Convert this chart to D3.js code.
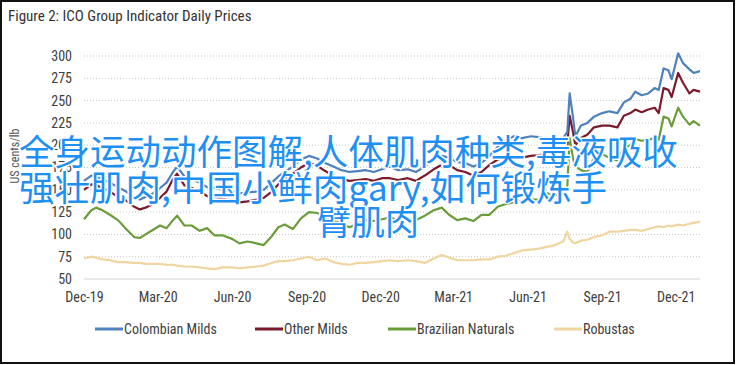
<!DOCTYPE html>
<html>
<head>
<meta charset="utf-8">
<script src="https://cdn.jsdelivr.net/npm/d3@7"></script>
<style>
body { margin: 0; background: #fff; }
svg text { font-family: "Liberation Sans Narrow", "Roboto Condensed", Lato, sans-serif; }
</style>
</head>
<body>
<div id="chart"></div>
<script>
// sample dates
var dates = ["2019-12-01","2019-12-10","2019-12-16","2019-12-24","2020-01-02","2020-01-12","2020-01-22","2020-02-01","2020-02-08","2020-02-15",
  "2020-02-24","2020-03-04","2020-03-12","2020-03-20","2020-03-25","2020-04-03","2020-04-12","2020-04-22","2020-05-01","2020-05-10",
  "2020-05-20","2020-06-01","2020-06-10","2020-06-20","2020-07-01","2020-07-10","2020-07-20","2020-07-28","2020-08-05","2020-08-15",
  "2020-08-25","2020-09-04","2020-09-14","2020-09-24","2020-10-04","2020-10-14","2020-10-24","2020-11-03","2020-11-13","2020-11-23",
  "2020-12-03","2020-12-13","2020-12-23","2021-01-04","2021-01-14","2021-01-25","2021-02-05","2021-02-15","2021-02-24","2021-03-06",
  "2021-03-16","2021-03-26","2021-04-05","2021-04-15","2021-04-25","2021-05-05","2021-05-15","2021-05-25","2021-06-05","2021-06-15",
  "2021-06-25","2021-07-05","2021-07-15","2021-07-20","2021-07-23","2021-07-27","2021-07-30","2021-08-06","2021-08-14","2021-08-22",
  "2021-09-01","2021-09-10","2021-09-20","2021-09-28","2021-10-06","2021-10-12","2021-10-20","2021-10-28","2021-11-05","2021-11-10",
  "2021-11-16","2021-11-22","2021-11-26","2021-12-04","2021-12-10","2021-12-18","2021-12-23","2021-12-31"]

var colombianMilds = [160,166,165,162,158,153,148,142,139,142,
  146,152,158,170,176,165,162,158,153,152,
  150,148,146,147,148,150,158,165,170,176,
  184,188,185,180,176,172,170,171,172,170,
  173,176,172,173,170,176,184,188,186,181,
  180,176,180,188,198,205,210,208,210,209,
  207,206,208,215,258,232,210,222,225,232,
  236,238,236,248,252,260,256,258,264,262,
  286,284,274,303,292,285,281,283]

var otherMilds = [150,156,155,152,148,142,138,131,128,130,
  134,141,148,162,168,155,152,148,143,142,
  140,138,136,137,139,141,148,156,162,168,
  175,180,177,171,166,162,160,161,162,160,
  163,163,161,163,160,166,173,178,178,172,
  170,166,170,178,184,186,187,186,188,189,
  190,192,196,200,233,215,200,208,212,220,
  222,222,220,233,236,240,237,240,242,236,
  264,262,254,281,270,258,262,260]

var brazilianNaturals = [117,127,130,127,122,116,106,97,96,100,
  105,110,107,116,121,110,110,104,107,99,
  99,95,90,92,90,88,98,108,111,106,
  118,125,124,120,116,112,108,112,116,115,
  117,119,116,117,116,121,127,130,122,116,
  118,115,122,122,131,134,136,137,139,139,
  146,144,146,152,208,186,176,172,170,186,
  190,186,183,197,200,207,205,206,208,206,
  232,230,221,242,232,223,227,222]

var robustas = [73,75,74,72,71,69,69,68,68,67,
  67,67,66,66,65,64,64,63,62,61,
  63,63,62,63,64,65,68,70,70,71,
  73,75,71,73,69,67,66,68,68,69,
  70,71,70,71,70,68,73,77,74,71,
  71,71,72,72,75,76,79,82,83,84,
  86,88,92,103,95,91,90,93,94,97,
  99,103,103,104,105,105,104,106,108,109,
  108,110,109,111,110,112,113,114]

var seriesNames = ["Colombian Milds", "Other Milds", "Brazilian Naturals", "Robustas"]
var seriesValues = [colombianMilds, otherMilds, brazilianNaturals, robustas]
var seriesColors = ["#4f81bd", "#7b1a2c", "#6b9c3a", "#f0d5a0"]
var yTicks = [50, 75, 100, 125, 150, 175, 200, 225, 250, 275, 300]
var xTicks = ["2019-12-01","2020-03-01","2020-06-01","2020-09-01","2020-12-01","2021-03-01","2021-06-01","2021-09-01","2021-12-01"]
var overlayLines = ["全身运动动作图解,人体肌肉种类,毒液吸收", "强壮肌肉,中国小鲜肉gary,如何锻炼手", "臂肌肉"]

var parser = d3.timeParse("%Y-%m-%d")
var svg = d3.select("#chart").append("svg").attr("width", 736).attr("height", 365)

// frame
svg.append("rect").attr("x", 1).attr("y", 1).attr("width", 733).attr("height", 362)
  .attr("fill", "#fff").attr("stroke", "#111").attr("stroke-width", 2)

svg.append("text").attr("x", 8).attr("y", 21).attr("font-size", 15).attr("fill", "#333")
  .text("Figure 2: ICO Group Indicator Daily Prices")

var x = d3.scaleTime().domain([parser("2019-12-01"), parser("2021-12-31")]).range([84, 700])
var y = d3.scaleLinear().domain([50, 300]).range([279, 56])

// gridlines
svg.append("g").selectAll("line").data(yTicks).enter().append("line")
  .attr("x1", 84).attr("x2", 700)
  .attr("y1", function(d) { return y(d) }).attr("y2", function(d) { return y(d) })
  .attr("stroke", function(d) { return d == 50 ? "#d4d4d4" : "#c8c8c8" })
  .attr("stroke-width", 1)
  .attr("stroke-dasharray", function(d) { return d == 50 ? null : "1,2" })

// y axis
var yAxis = svg.append("g").attr("transform", "translate(84,0)")
  .call(d3.axisLeft(y).tickValues(yTicks).tickSize(0).tickPadding(12))
yAxis.select(".domain").remove()
yAxis.selectAll("text").attr("font-size", 14).attr("fill", "#404040")

// x axis
var xAxis = svg.append("g").attr("transform", "translate(0,292)")
  .call(d3.axisBottom(x).tickValues(xTicks.map(parser)).tickFormat(d3.timeFormat("%b-%y")).tickSize(0).tickPadding(0))
xAxis.select(".domain").remove()
xAxis.selectAll("text").attr("font-size", 14).attr("fill", "#404040")

svg.append("text").attr("transform", "translate(19,156) rotate(-90)")
  .attr("text-anchor", "middle").attr("font-size", 12).attr("fill", "#555")
  .text("US cents/lb")

var line = d3.line()
  .x(function(d) { return x(d.date) })
  .y(function(d) { return y(d.value) })

// draw back to front: robustas first
for (var s = seriesValues.length - 1; s >= 0; s--) {
  var rows = dates.map(function(d, i) { return { date: parser(d), value: seriesValues[s][i] } })
  svg.append("path").datum(rows).attr("d", line)
    .attr("fill", "none").attr("stroke", seriesColors[s]).attr("stroke-width", 2.2)
    .attr("stroke-linejoin", "round")
}

// legend
var legendX = [95, 255, 388, 554]
var legend = svg.selectAll(".legend").data(seriesNames).enter().append("g")
  .attr("class", "legend")
  .attr("transform", function(d, i) { return "translate(" + legendX[i] + ",329)" })
legend.append("line").attr("x1", 0).attr("x2", 28).attr("y1", 0).attr("y2", 0)
  .attr("stroke", function(d, i) { return seriesColors[i] }).attr("stroke-width", 3)
legend.append("text").attr("x", 29).attr("dy", "0.35em").attr("font-size", 14).attr("fill", "#404040")
  .text(function(d) { return d })

// overlay caption
var overlayPos = [[19, 165], [19, 201], [317, 235]]
var overlaySize = [35.5, 35.5, 34]
svg.selectAll(".overlay").data(overlayLines).enter().append("text")
  .attr("class", "overlay")
  .attr("x", function(d, i) { return overlayPos[i][0] })
  .attr("y", function(d, i) { return overlayPos[i][1] })
  .style("font-family", '"Noto Sans CJK SC", sans-serif')
  .attr("font-size", function(d, i) { return overlaySize[i] })
  .attr("fill", "#1f90f3")
  .attr("stroke", "#fff").attr("stroke-width", 3).attr("paint-order", "stroke")
  .text(function(d) { return d })
</script>
</body>
</html>
